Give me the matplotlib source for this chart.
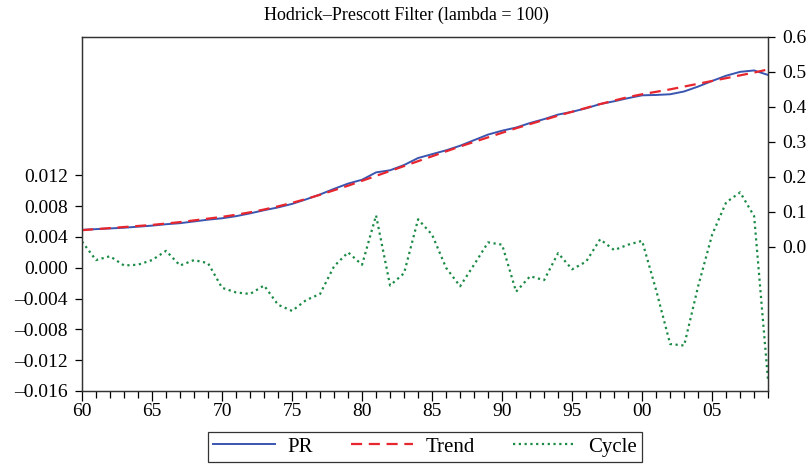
import matplotlib.pyplot as plt
from matplotlib.ticker import MultipleLocator, FixedLocator, FuncFormatter

years = list(range(1960, 2010))

pr = [0.049, 0.051, 0.053, 0.055, 0.058, 0.061, 0.065, 0.068, 0.073, 0.078,
      0.082, 0.088, 0.096, 0.105, 0.113, 0.123, 0.136, 0.150, 0.166, 0.181,
      0.192, 0.213, 0.219, 0.234, 0.254, 0.265, 0.276, 0.289, 0.305, 0.321,
      0.332, 0.341, 0.354, 0.365, 0.378, 0.386, 0.396, 0.408, 0.416, 0.425,
      0.433, 0.434, 0.436, 0.444, 0.458, 0.474, 0.489, 0.500, 0.504, 0.491]

trend = [0.048, 0.051, 0.054, 0.057, 0.060, 0.063, 0.067, 0.071, 0.076, 0.081,
         0.086, 0.092, 0.099, 0.107, 0.116, 0.126, 0.137, 0.149, 0.162, 0.175,
         0.189, 0.203, 0.217, 0.231, 0.245, 0.259, 0.273, 0.287, 0.300, 0.313,
         0.326, 0.339, 0.351, 0.363, 0.375, 0.386, 0.397, 0.408, 0.418, 0.428,
         0.436, 0.443, 0.450, 0.458, 0.466, 0.474, 0.482, 0.490, 0.498, 0.507]

cycle = [0.0034, 0.0010, 0.0015, 0.0003, 0.0004, 0.0010, 0.0022, 0.0003, 0.0010, 0.0006,
         -0.0026, -0.0032, -0.0034, -0.0023, -0.0048, -0.0056, -0.0042, -0.0034, 0.0002, 0.0020,
         0.0004, 0.0068, -0.0023, -0.0007, 0.0063, 0.0043, 0.0000, -0.0024, 0.0004, 0.0033,
         0.0030, -0.0031, -0.0011, -0.0016, 0.0019, -0.0002, 0.0008, 0.0037, 0.0023, 0.0030,
         0.0035, -0.0029, -0.0099, -0.0101, -0.0024, 0.0043, 0.0085, 0.0098, 0.0067, -0.0148]

left_ticks = [-0.016, -0.012, -0.008, -0.004, 0.000, 0.004, 0.008, 0.012]
right_ticks = [0.0, 0.1, 0.2, 0.3, 0.4, 0.5, 0.6]

plt.rcParams['font.family'] = ['Liberation Serif', 'DejaVu Serif']
plt.rcParams['font.size'] = 14

fig = plt.figure(figsize=(8.12, 4.66), dpi=100)
ax = fig.add_axes([0.101, 0.161, 0.845, 0.760])
ax2 = ax.twinx()

c_line, = ax.plot(years, cycle, color="#1b8a45", linestyle=(0, (1, 1.6)), linewidth=1.6)
p_line, = ax2.plot(years, pr, color="#3a55b0", linewidth=1.4)
t_line, = ax2.plot(years, trend, color="#e8262e", linestyle=(0, (5, 3)), linewidth=1.6)

ax.set_xlim(1960, 2009)
ax.set_ylim(-0.016, 0.030)
ax2.set_ylim(-0.411, 0.6)

ax.yaxis.set_major_locator(FixedLocator(left_ticks))
ax.yaxis.set_major_formatter(FuncFormatter(lambda v, p: f"{v:.3f}".replace("-", "\u2013")))
ax2.yaxis.set_major_locator(FixedLocator(right_ticks))
ax2.yaxis.set_major_formatter(FuncFormatter(lambda v, p: f"{v:.1f}"))

ax.xaxis.set_major_locator(MultipleLocator(5))
ax.xaxis.set_minor_locator(MultipleLocator(1))
ax.xaxis.set_major_formatter(FuncFormatter(lambda v, p: f"{int(v) % 100:02d}"))

ax.tick_params(axis="x", which="major", direction="out", length=7, width=0.9, pad=2)
ax.tick_params(axis="x", which="minor", direction="out", length=5, width=0.9)
ax.tick_params(axis="y", direction="out", length=5, width=0.9, pad=5)
ax2.tick_params(axis="y", direction="out", length=5, width=0.9, pad=5)

for a in (ax, ax2):
    for s in a.spines.values():
        s.set_linewidth(0.9)
        s.set_color("#333333")

fig.text(0.5, 0.967, "Hodrick\u2013Prescott Filter (lambda = 100)", fontsize=13,
         ha="center", va="center")

leg = fig.legend([p_line, t_line, c_line], ["PR", "Trend", "Cycle"],
                 loc="center", bbox_to_anchor=(0.523, 0.041), ncol=3,
                 frameon=True, fancybox=False, edgecolor="black",
                 handlelength=3.0, columnspacing=1.8, handletextpad=0.6,
                 borderpad=0.25, fontsize=15)
leg.get_frame().set_linewidth(0.9)

fig.savefig("out.png", dpi=100)
